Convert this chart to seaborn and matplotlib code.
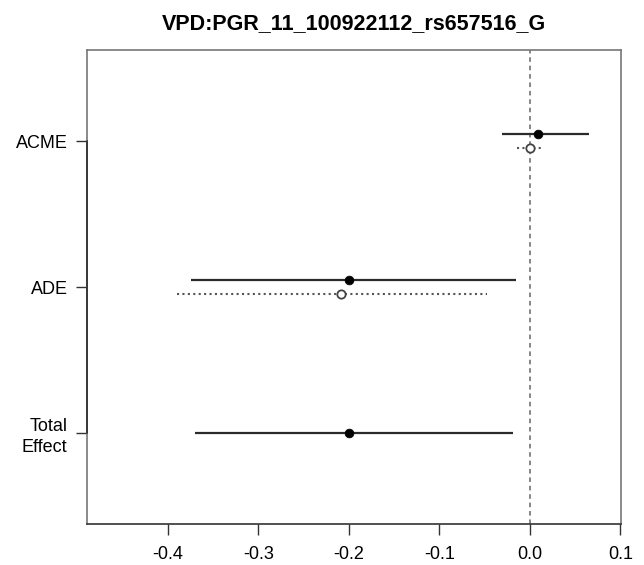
import numpy as np
import pandas as pd
import seaborn as sns
import matplotlib
matplotlib.use('Agg')
import matplotlib.pyplot as plt

# Mediation estimates (treated = solid/filled, control = dotted/open)
effects = ['ACME', 'ADE', 'Total\nEffect']
treated_est = [0.009, -0.200, -0.200]
treated_low = [-0.031, -0.375, -0.370]
treated_high = [0.065, -0.015, -0.019]
control_est = [0.000, -0.209]
control_low = [-0.014, -0.390]
control_high = [0.014, -0.0475]
xticks = [-0.4, -0.3, -0.2, -0.1, 0.0, 0.1]
title = 'VPD:PGR_11_100922112_rs657516_G'

sns.set_style('white')
plt.rcParams['font.family'] = ['Liberation Sans', 'DejaVu Sans']

ypos = [3, 2, 1]
off = 0.05
treated = pd.DataFrame({'y': np.array(ypos) + [off, off, 0], 'est': treated_est,
                        'low': treated_low, 'high': treated_high})
control = pd.DataFrame({'y': np.array(ypos[:2]) - off, 'est': control_est,
                        'low': control_low, 'high': control_high})

fig = plt.figure(figsize=(6.44, 5.65), dpi=100)
ax = fig.add_axes([87 / 644, 1 - 524 / 565, (621 - 87) / 644, (524 - 50) / 565])

ax.axvline(0, color='#666666', lw=1.1, ls=(0, (3, 2.5)), zorder=1)
ax.hlines(treated['y'], treated['low'], treated['high'], color='#2b2b2b', lw=1.6, zorder=2)
ax.hlines(control['y'], control['low'], control['high'], color='#555555', lw=1.5,
          ls=(0, (1, 1.6)), zorder=2)
sns.scatterplot(data=treated, x='est', y='y', ax=ax, color='black', s=40,
                edgecolor='black', zorder=3)
sns.scatterplot(data=control, x='est', y='y', ax=ax, color='white', s=36,
                edgecolor='#444444', linewidth=1.3, zorder=3)

ax.set_xlim(-0.4895, 0.1006)
ax.set_ylim(0.375, 3.625)
ax.set_xticks(xticks)
ax.set_xticklabels([f'{t:.1f}' for t in xticks], fontsize=13, color='black')
ax.set_yticks(ypos)
ax.set_yticklabels(effects, fontsize=13, ha='right', multialignment='right',
                   color='black', linespacing=1.35)
ax.set_xlabel('')
ax.set_ylabel('')
ax.tick_params(axis='both', direction='out', length=8, width=1, color='#333333',
               left=True, bottom=True, pad=6)
ax.tick_params(axis='x', pad=8)
for s in ax.spines.values():
    s.set_color('#777777')
    s.set_linewidth(1.2)
ax.spines['bottom'].set_color('#333333')
# R style y axis line between first and last tick
ax.plot([0.0, 0.0], [1, 3], color='#333333', lw=1.3, transform=ax.get_yaxis_transform(),
        clip_on=False, zorder=4)
ax.set_title(title, fontsize=15.5, fontweight='bold', pad=15, color='black')

fig.savefig('out.png', dpi=100)
